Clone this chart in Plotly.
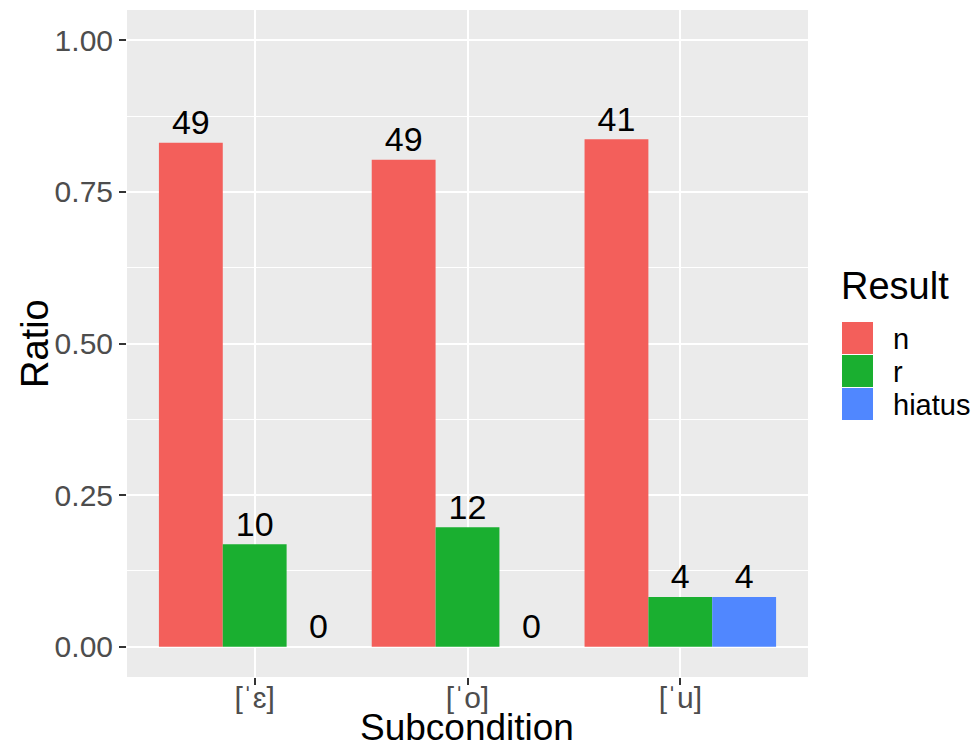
import plotly.graph_objects as go

categories = ["[ˈɛ]", "[ˈo]", "[ˈu]"]
results = ["n", "r", "hiatus"]
counts_n = [49, 49, 41]
counts_r = [10, 12, 4]
counts_hiatus = [0, 0, 4]
ratio_n = [0.831, 0.803, 0.837]
ratio_r = [0.169, 0.197, 0.082]
ratio_hiatus = [0.0, 0.0, 0.082]
colors = ["#F35F5B", "#1AAF30", "#5087FF"]
y_ticks = [0.0, 0.25, 0.5, 0.75, 1.0]
y_tick_labels = ["0.00", "0.25", "0.50", "0.75", "1.00"]

OFF = 8  # page body margin
W, H = 979 - 2 * OFF, 755 - 2 * OFF
L, R, T, B = 127 - OFF, 808 - OFF, 10 - OFF, 677 - OFF
FONT = "Liberation Sans, Arial, DejaVu Sans, sans-serif"

fig = go.Figure()
series = [(ratio_n, counts_n), (ratio_r, counts_r), (ratio_hiatus, counts_hiatus)]
for name, (vals, cnts), col in zip(results, series, colors):
    fig.add_trace(go.Bar(
        x=categories, y=vals, name=name, marker=dict(color=col, line=dict(width=0)),
        offsetgroup=name, alignmentgroup="a", showlegend=False, hoverinfo="x+y+name",
    ))
    fig.add_trace(go.Scatter(
        x=categories, y=vals, mode="text", text=[str(c) for c in cnts],
        textposition="top center", offsetgroup=name, alignmentgroup="a",
        textfont=dict(family=FONT, size=34, color="black"),
        cliponaxis=False, showlegend=False, hoverinfo="skip",
    ))

fig.update_layout(
    width=W, height=H,
    margin=dict(l=L, r=W - R, t=T, b=H - B, pad=0),
    paper_bgcolor="white", plot_bgcolor="#EBEBEB",
    barmode="group", bargap=0.1, bargroupgap=0,
    scattermode="group", scattergap=0.1,
    font=dict(family=FONT),
)
fig.update_xaxes(
    type="category", range=[-0.6, 2.6], showgrid=True, gridcolor="white", gridwidth=1.6,
    ticks="outside", ticklen=7, tickwidth=1.5, tickcolor="#333333", ticklabelstandoff=-13,
    tickfont=dict(family=FONT, size=30, color="#4D4D4D"), zeroline=False, showline=False,
)
fig.update_yaxes(
    range=[-0.05, 1.05], tickvals=y_ticks, ticktext=y_tick_labels,
    showgrid=True, gridcolor="white", gridwidth=1.6,
    minor=dict(dtick=0.125, tick0=0.125, showgrid=True, gridcolor="white", gridwidth=0.8),
    ticks="outside", ticklen=7, tickwidth=1.5, tickcolor="#333333",
    tickfont=dict(family=FONT, size=30, color="#4D4D4D"), zeroline=False, showline=False,
)

def px(X):
    return (X - OFF - L) / (R - L)

def py(Y):
    return (B - (Y - OFF)) / (B - T)

# axis titles
fig.add_annotation(x=px(467), y=py(727), xref="paper", yref="paper", text="Subcondition",
                   showarrow=False, font=dict(family=FONT, size=37, color="black"),
                   xanchor="center", yanchor="middle")
fig.add_annotation(x=px(35), y=py(344), xref="paper", yref="paper", text="Ratio", textangle=-90,
                   showarrow=False, font=dict(family=FONT, size=38, color="black"),
                   xanchor="center", yanchor="middle")

# legend
fig.add_annotation(x=px(839), y=py(286), xref="paper", yref="paper", text="Result",
                   showarrow=False, font=dict(family=FONT, size=38, color="black"),
                   xanchor="left", yanchor="middle")
key_top = 322
key_h = 33
for i, (name, col) in enumerate(zip(results, colors)):
    y0 = key_top + i * key_h
    fig.add_shape(type="rect", xref="paper", yref="paper",
                  x0=px(842), x1=px(873), y0=py(y0 + key_h - 1), y1=py(y0),
                  fillcolor=col, line=dict(width=0))
    fig.add_annotation(x=px(891), y=py(y0 + key_h / 2), xref="paper", yref="paper", text=name,
                       showarrow=False, font=dict(family=FONT, size=29, color="black"),
                       xanchor="left", yanchor="middle")

fig.write_html("out.html")
